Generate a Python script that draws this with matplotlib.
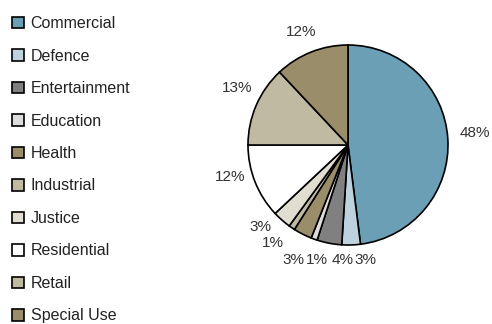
import matplotlib
matplotlib.use("Agg")
import matplotlib.pyplot as plt
from matplotlib import font_manager

names = set(f.name for f in font_manager.fontManager.ttflist)
fam = 'Liberation Sans Narrow' if 'Liberation Sans Narrow' in names else 'Liberation Sans'
plt.rcParams['font.family'] = [fam, 'DejaVu Sans']

categories = ['Commercial', 'Defence', 'Entertainment', 'Education', 'Health',
              'Industrial', 'Justice', 'Residential', 'Retail', 'Special Use']
shares = [48, 3, 4, 1, 3, 1, 3, 12, 13, 12]
colors = ['#6b9fb6', '#bdd1df', '#808080', '#dcdcdc', '#9a8d6a',
          '#c1baa3', '#e1ded1', '#ffffff', '#c1baa3', '#9a8d6a']

# label positions (pie units, centre = 0,0)
label_pos = [(1.27, 0.12), (0.17, -1.15), (-0.05, -1.15), (-0.31, -1.15),
             (-0.55, -1.15), (-0.75, -0.98), (-0.88, -0.82), (-1.18, -0.32),
             (-1.11, 0.57), (-0.47, 1.13)]

fig = plt.figure(figsize=(4.92, 3.24), dpi=100)
ax = fig.add_axes([(348 - 130) / 492, (324 - 145 - 130) / 324, 260 / 492, 260 / 324])

wedges, texts = ax.pie(shares, colors=colors, startangle=90, counterclock=False,
                       labels=[f'{s}%' for s in shares], labeldistance=1.25,
                       wedgeprops=dict(edgecolor='black', linewidth=1.2),
                       textprops=dict(fontsize=11, color='#333333'))
for t, p in zip(texts, label_pos):
    t.set_position(p)
    t.set_ha('center')
    t.set_va('center')
ax.set_xlim(-1.3, 1.3)
ax.set_ylim(-1.3, 1.3)
ax.set_aspect('equal')
ax.axis('off')

leg = fig.legend(wedges, categories, loc='upper left', bbox_to_anchor=(0.002, 0.985),
                 frameon=False, fontsize=11.5, handlelength=0.75, handleheight=0.75,
                 handletextpad=0.4, labelspacing=1.095, borderaxespad=0.3)
for t in leg.get_texts():
    t.set_color('#222222')

fig.savefig('out.png', dpi=100)
